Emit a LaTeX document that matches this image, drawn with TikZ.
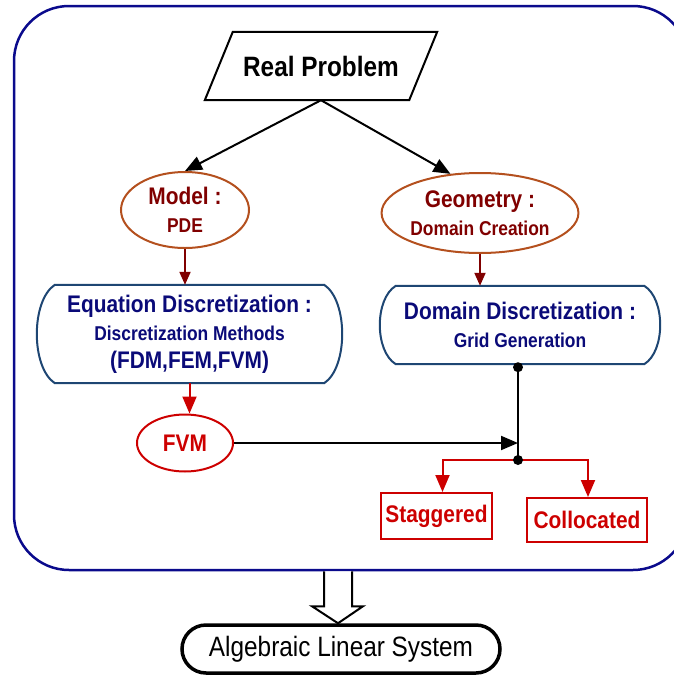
\documentclass[tikz,border=0pt]{standalone}
\usepackage{fontspec}
\setmainfont[FakeStretch=0.87]{Liberation Sans}
\usetikzlibrary{shapes.geometric,arrows.meta,calc}

\definecolor{navyframe}{RGB}{10,10,140}
\definecolor{boxblue}{RGB}{30,70,115}
\definecolor{textnavy}{RGB}{10,10,120}
\definecolor{brownline}{RGB}{180,80,30}
\definecolor{darkred}{RGB}{128,0,0}
\definecolor{brightred}{RGB}{205,0,0}

% outline with flat top/bottom and bulging sides around a node
\newcommand\bulgeoutline[3]{%
  \draw[bulgeline]
    ($(#1.north west)+(#2,0)$) -- ($(#1.north east)+(-#2,0)$)
    .. controls ($(#1.north east)+(#2/3,#3)$) and ($(#1.south east)+(#2/3,-#3)$) .. ($(#1.south east)+(-#2,0)$)
    -- ($(#1.south west)+(#2,0)$)
    .. controls ($(#1.south west)+(-#2/3,-#3)$) and ($(#1.north west)+(-#2/3,#3)$) .. cycle;}

\begin{document}
\begin{tikzpicture}[x=1pt,y=-1pt,
  fbig/.style={font=\fontsize{28}{32}\selectfont\bfseries},
  fmid/.style={font=\fontsize{24}{28}\selectfont\bfseries},
  bulgeline/.style={draw=boxblue,line width=2pt},
  geoell/.style={ellipse,draw=brownline,line width=2pt,text=darkred,inner sep=0pt,align=center,fmid},
  methell/.style={ellipse,draw=brightred,line width=2pt,text=brightred,inner sep=0pt,fmid},
  gridbox/.style={draw=brightred,line width=2pt,text=brightred,inner sep=0pt,fmid},
  discbox/.style={text=textnavy,align=center,inner sep=0pt,fmid},
  blackarrow/.style={draw=black,line width=2pt,-{Triangle[length=17pt,width=14pt]}},
  brownarrow/.style={draw=darkred,line width=2pt,-{Triangle[length=13pt,width=11pt]}},
  redarrow/.style={draw=brightred,line width=2pt,-{Triangle[length=17pt,width=14pt]}},
  junction/.style={circle,fill=black,inner sep=0pt,minimum size=10pt}]

\useasboundingbox (0,0) rectangle (673,683);

% outer frame
\node[draw=navyframe,line width=2.5pt,rounded corners=55pt,
      minimum width=674pt,minimum height=564pt,inner sep=0pt] (frame) at (351,288) {};

% top input
\node[fbig,minimum width=204pt,minimum height=68pt,inner sep=0pt] (rp) at (321,66) {Real Problem};
\draw[line width=2pt] ($(rp.north west)+(14,0)$) -- ($(rp.north east)+(14,0)$)
  -- ($(rp.south east)+(-14,0)$) -- ($(rp.south west)+(-14,0)$) -- cycle;

% modelling ellipses
\node[geoell,minimum width=128pt,minimum height=76pt] (model) at (185,210)
  {Model :\\{\fontsize{20}{28}\selectfont PDE}};
\node[geoell,minimum width=176pt,minimum height=80pt] (geo) at (480,213)
  {Geometry :\\{\fontsize{20}{26}\selectfont Domain Creation}};

% discretization boxes
\node[discbox,minimum width=305pt,minimum height=98pt] (eq) at (189.5,334)
  {Equation Discretization :\\
   {\fontsize{20}{28}\selectfont Discretization Methods}\\
   (FDM,FEM,FVM)};
\bulgeoutline{eq}{18}{16}
\node[discbox,minimum width=280pt,minimum height=78pt] (dom) at (520,325)
  {Domain Discretization :\\
   {\fontsize{20}{28}\selectfont Grid Generation}};
\bulgeoutline{dom}{16}{13}

% method and grid types
\node[methell,minimum width=96pt,minimum height=57pt] (fvm) at (185,443) {FVM};
\node[gridbox,minimum width=111pt,minimum height=46pt] (stag) at (436.5,516) {Staggered};
\node[gridbox,minimum width=120pt,minimum height=44pt] (coll) at (587,520) {Collocated};

% result
\node[draw=black,line width=3.5pt,rounded corners=24pt,minimum width=318pt,minimum height=48pt,
      inner sep=0pt,font=\fontsize{28}{32}\selectfont] (alg) at (341,649) {Algebraic Linear System};

% connectors
\draw[blackarrow] (rp.south) -- (model.north);
\draw[blackarrow] (rp.south) -- (geo.127);
\draw[brownarrow] (model.south) -- (model.south |- eq.north);
\draw[brownarrow] (geo.south) -- (geo.south |- dom.north);
\draw[redarrow] (eq.south) -- (eq.south |- fvm.north);

\node[junction] (jtop) at ($(dom.south)+(-2,3)$) {};
\coordinate (jbot) at (jtop |- 0,460);
\draw[line width=2pt] (jtop.center) -- (jbot);
\draw[blackarrow] (fvm.east) -- (jtop |- fvm.east);
\draw[redarrow] (jbot) -| ($(stag.north)+(6,0)$);
\draw[redarrow] (jbot) -| ($(coll.north)+(1,0)$);
\node[junction] at (jbot) {};

% block arrow from the frame down to the result
\coordinate (btip) at (alg.north -| 338,0);
\draw[line width=2pt,fill=white]
  ($(btip |- frame.south)+(-14,0)$) -- ($(btip)+(-14,-17)$) -- ($(btip)+(-26,-17)$)
  -- (btip) -- ($(btip)+(25,-17)$) -- ($(btip)+(14,-17)$) -- ($(btip |- frame.south)+(14,0)$);
\end{tikzpicture}
\end{document}
